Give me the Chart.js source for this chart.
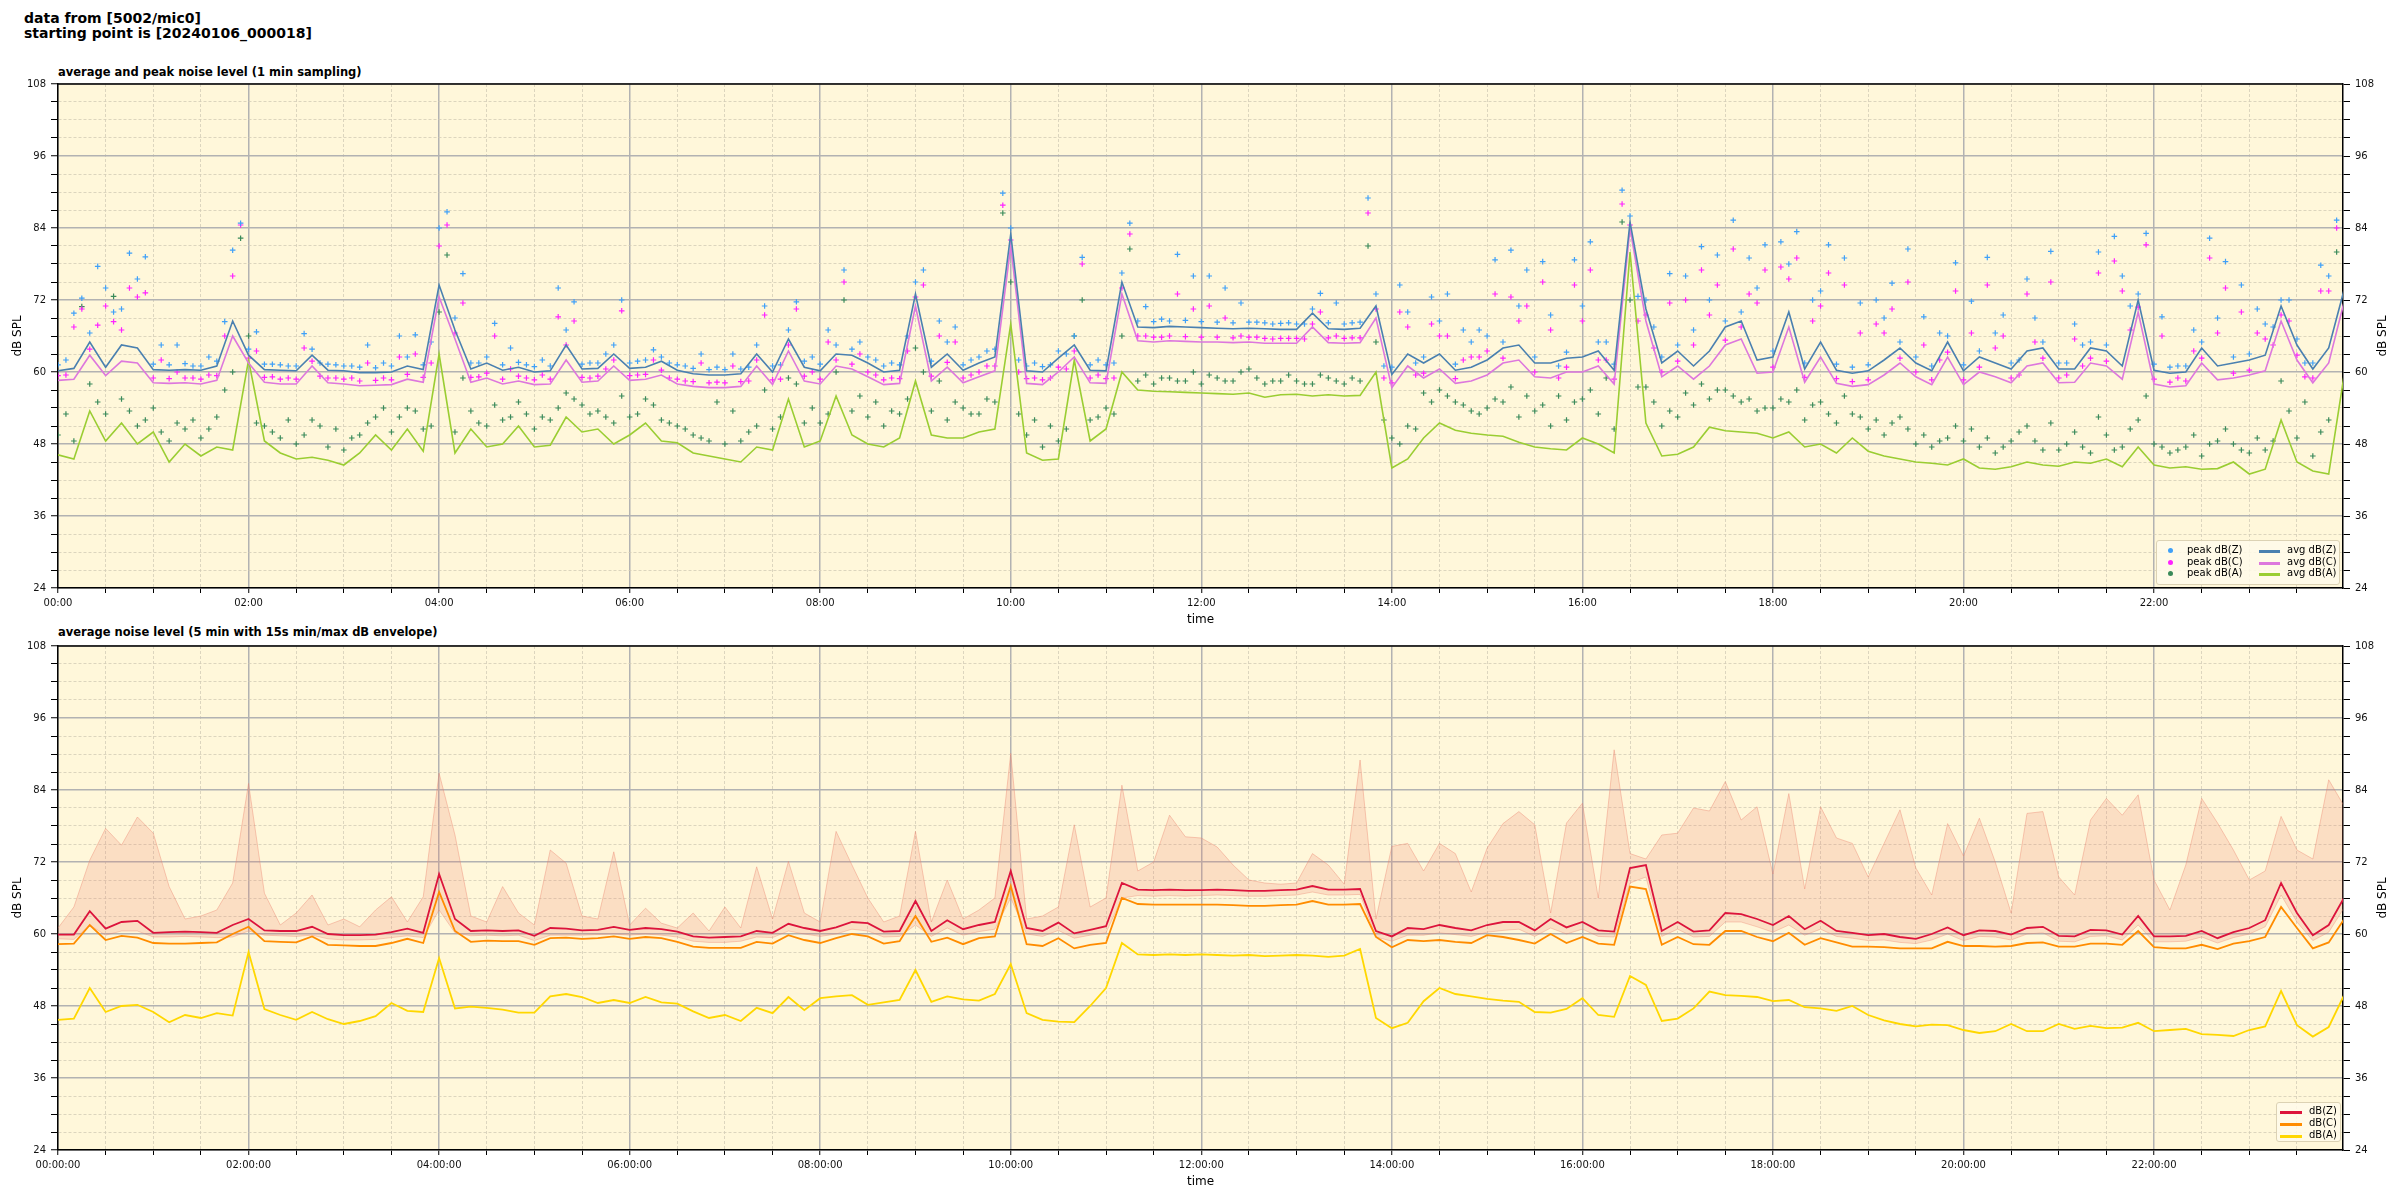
<!DOCTYPE html>
<html>
<head>
<meta charset="utf-8">
<script src="https://cdn.jsdelivr.net/npm/chart.js@4.4.1/dist/chart.umd.min.js"></script>
<style>
  body { margin: 0; width: 2400px; height: 1200px; position: relative; overflow: hidden; background: #fff; font-family: "DejaVu Sans", sans-serif; color: #000; }
  canvas { position: absolute; left: 0; }
  #sup { position: absolute; left: 24px; top: 11px; font-weight: bold; font-size: 14px; line-height: 15px; }
  .sub { position: absolute; left: 58px; font-weight: bold; font-size: 11.5px; line-height: 14px; }
  .ylab2 { position: absolute; width: 60px; height: 16px; line-height: 16px; text-align: center; font-size: 12px; transform: rotate(-90deg); }
  .legend { position: absolute; background: rgba(255, 250, 234, 0.85); border: 1px solid #dcd2b4; border-radius: 3px; font-size: 10px; }
  .legend span { position: absolute; white-space: nowrap; }
  .mk { width: 5px; height: 5px; border-radius: 50%; }
  .ln { height: 3px; }
</style>
</head>
<body>
<div id="sup">data from [5002/mic0]<br>starting point is [20240106_000018]</div>
<div class="sub" style="top:65px">average and peak noise level (1 min sampling)</div>
<div class="sub" style="top:625px">average noise level (5 min with 15s min/max dB envelope)</div>

<canvas id="top" width="2400" height="560" style="top:78px"></canvas>
<canvas id="bottom" width="2400" height="560" style="top:640px"></canvas>

<div class="ylab2" style="left:2352px;top:328px">dB SPL</div>
<div class="ylab2" style="left:2352px;top:890px">dB SPL</div>

<div class="legend" style="left:2156px;top:540px;width:182px;height:43px">
  <span class="mk" style="left:11px;top:7px;background:#3fa0f8"></span><span style="left:30px;top:3px">peak dB(Z)</span>
  <span class="mk" style="left:11px;top:19px;background:#ff22ff"></span><span style="left:30px;top:15px">peak dB(C)</span>
  <span class="mk" style="left:11px;top:30px;background:#3a8a5a"></span><span style="left:30px;top:26px">peak dB(A)</span>
  <span class="ln" style="left:102px;top:9px;width:21px;background:#4a80b0"></span><span style="left:130px;top:3px">avg dB(Z)</span>
  <span class="ln" style="left:102px;top:21px;width:21px;background:#dd77dd"></span><span style="left:130px;top:15px">avg dB(C)</span>
  <span class="ln" style="left:102px;top:32px;width:21px;background:#9acd32"></span><span style="left:130px;top:26px">avg dB(A)</span>
</div>
<div class="legend" style="left:2276px;top:1102px;width:63px;height:38px">
  <span class="ln" style="left:3px;top:8px;width:22px;background:#dc143c"></span><span style="left:32px;top:2px">dB(Z)</span>
  <span class="ln" style="left:3px;top:20px;width:22px;background:#ff8c00"></span><span style="left:32px;top:14px">dB(C)</span>
  <span class="ln" style="left:3px;top:32px;width:22px;background:#ffd700"></span><span style="left:32px;top:26px">dB(A)</span>
</div>

<script>
// one value every 10 minutes; lines start at 00:00, the two peak sets at 00:00 and 00:05
const STEP_MIN = 10;

// top chart: 1 min averages
const avgZ = [
  60.2, 60.6, 65.0, 60.8, 64.5, 64.0,
  60.4, 60.3, 60.4, 60.3, 61.0, 68.5,
  62.8, 60.4, 60.3, 60.2, 62.8, 60.3,
  60.2, 59.9, 59.9, 60.0, 61.0, 60.4,
  74.5, 67.0, 60.5, 61.5, 60.3, 60.8,
  60.0, 60.2, 64.5, 60.5, 60.6, 63.0,
  60.6, 60.8, 61.8, 60.3, 59.7, 59.5,
  59.5, 59.7, 63.0, 60.0, 65.5, 60.8,
  60.2, 63.0, 62.8, 61.5, 60.0, 60.3,
  73.0, 60.8, 63.0, 60.3, 61.5, 62.5,
  83.0, 60.2, 60.0, 62.3, 64.5, 60.3,
  60.2, 75.0, 67.5, 67.4, 67.6, 67.5,
  67.4, 67.3, 67.2, 67.3, 67.2, 67.1,
  67.1, 69.8, 67.2, 67.1, 67.3, 71.0,
  59.6, 63.0, 61.5, 63.0, 60.3, 60.8,
  62.0, 64.0, 64.5, 61.5, 61.5, 62.3,
  62.5, 63.5, 60.3, 85.0, 70.5, 61.5,
  63.5, 61.0, 63.5, 67.5, 68.5, 62.0,
  62.5, 70.0, 60.5, 65.0, 60.3, 59.8,
  60.2, 62.0, 64.0, 61.5, 60.2, 65.0,
  60.2, 62.5, 61.5, 60.5, 63.5, 64.0,
  60.5, 60.5, 64.0, 63.5, 61.0, 72.0,
  60.3, 59.8, 60.0, 64.0, 61.0, 61.5,
  62.0, 62.8, 71.0, 64.5, 60.5, 64.0,
  74.0
];
const avgC = [
  58.6, 58.8, 62.8, 59.4, 61.8, 61.5,
  58.2, 58.1, 58.2, 58.0, 58.6, 66.0,
  61.5, 58.3, 58.0, 58.0, 61.0, 58.2,
  58.0, 57.7, 57.8, 57.9, 58.8, 58.3,
  72.5, 65.5, 58.3, 59.0, 58.0, 58.5,
  57.9, 58.0, 62.0, 58.3, 58.5, 61.0,
  58.6, 58.8, 59.5, 58.0, 57.6, 57.4,
  57.4, 57.6, 61.0, 57.9, 63.5, 58.5,
  58.0, 61.0, 60.5, 59.2, 57.9, 58.1,
  71.0, 58.5, 60.8, 58.2, 59.2, 60.2,
  81.0, 58.1, 57.9, 60.0, 62.5, 58.2,
  58.1, 73.0, 65.2, 65.0, 65.2, 65.1,
  65.0, 65.0, 64.9, 65.0, 64.8, 64.8,
  64.8, 67.5, 64.9, 64.8, 64.9, 69.0,
  57.4, 61.0, 59.0, 60.5, 58.1, 58.5,
  59.5, 61.5, 62.0, 59.2, 59.0, 60.0,
  60.0, 61.0, 58.0, 84.0, 68.5, 59.2,
  61.0, 58.8, 61.0, 64.5, 65.5, 59.8,
  60.0, 67.5, 58.3, 62.5, 58.1, 57.6,
  57.9, 59.5, 61.5, 59.2, 57.9, 62.5,
  57.9, 60.0, 59.2, 58.2, 61.0, 61.5,
  58.2, 58.3, 61.5, 61.0, 58.8, 70.0,
  58.0, 57.5, 57.7, 61.5, 58.7, 59.0,
  59.5, 60.2, 68.5, 62.0, 58.2, 61.5,
  72.0
];
const avgA = [
  46.2, 45.5, 53.5, 48.5, 51.5, 48.0,
  50.0, 45.0, 48.0, 46.0, 47.5, 47.0,
  62.0, 48.5, 46.5, 45.5, 45.8, 45.3,
  44.5, 46.5, 49.5, 47.0, 50.5, 46.8,
  63.0, 46.5, 50.5, 47.5, 48.0, 51.0,
  47.5, 47.8, 52.5, 50.0, 50.5, 48.0,
  49.5, 51.5, 48.5, 48.2, 46.5, 46.0,
  45.5, 45.0, 47.5, 47.0, 55.5, 47.5,
  48.5, 56.0, 49.5, 48.0, 47.5, 49.0,
  58.5, 49.5, 49.0, 49.0, 50.0, 50.5,
  68.0, 46.5, 45.3, 45.5, 62.0, 48.5,
  50.5, 60.0, 57.0, 56.8, 56.7, 56.6,
  56.5, 56.4, 56.3, 56.5, 55.8, 56.2,
  56.3, 56.0, 56.2, 56.0, 56.1, 60.0,
  44.0, 45.5, 49.0, 51.5, 50.3, 49.8,
  49.5, 49.3, 48.3, 47.5, 47.2, 47.0,
  49.0, 48.0, 46.5, 80.0, 51.5, 46.0,
  46.3, 47.5, 50.8, 50.2, 50.0, 49.8,
  49.0, 50.0, 47.5, 48.0, 46.5, 49.0,
  46.8, 46.0, 45.5, 45.0, 44.8, 44.5,
  45.5, 44.0, 43.8, 44.2, 45.0, 44.5,
  44.3, 45.0, 44.8, 45.5, 44.2, 47.5,
  44.5, 44.0, 44.2, 43.8, 43.9, 45.0,
  43.0, 43.8, 52.0, 45.0, 43.5, 43.0,
  60.0
];
// peaks at hh:m5
const peakZ = [
  62.0, 72.3, 77.6, 70.0, 79.8, 79.2,
  64.5, 64.5, 61.0, 62.5, 68.4, 84.8,
  66.7, 61.3, 61.0, 66.4, 61.5, 61.2,
  61.0, 64.5, 61.5, 66.0, 66.2, 65.0,
  86.7, 76.4, 61.5, 68.1, 64.0, 61.2,
  62.0, 74.0, 71.7, 61.5, 63.0, 72.0,
  61.8, 63.7, 61.5, 61.0, 63.0, 60.8,
  63.0, 60.8, 71.0, 61.2, 71.7, 62.5,
  67.0, 77.0, 65.0, 62.0, 61.5, 66.0,
  77.0, 68.5, 67.5, 62.0, 63.5, 89.8,
  62.0, 61.5, 61.2, 63.0, 79.1, 62.0,
  61.5, 84.8, 70.9, 68.8, 79.6, 76.0,
  76.0, 74.0, 71.5, 68.3, 68.0, 68.2,
  68.0, 73.1, 71.5, 68.2, 89.0, 61.0,
  74.5, 61.5, 72.5, 73.0, 67.0, 67.0,
  78.7, 80.3, 77.0, 78.4, 61.0, 78.7,
  81.7, 65.0, 90.3, 72.6, 67.5, 76.4,
  76.0, 80.9, 79.5, 85.3, 79.0, 81.2,
  81.7, 83.4, 72.0, 81.2, 79.0, 71.5,
  72.0, 74.8, 80.5, 69.2, 66.5, 78.2,
  71.8, 79.1, 69.5, 62.0, 69.0, 80.1,
  61.5, 64.5, 80.0, 82.6, 71.0, 83.1,
  69.2, 61.0, 67.0, 82.3, 78.4, 74.5,
  70.5, 67.5, 72.0, 61.5, 77.8, 85.3
];
const peakC = [
  59.5, 70.5, 67.8, 68.4, 74.0, 73.2,
  62.0, 60.0, 59.0, 59.5, 66.0, 84.5,
  63.5, 59.2, 59.0, 64.0, 59.3, 59.0,
  59.0, 61.5, 59.0, 62.5, 63.0, 61.5,
  84.5, 71.5, 59.2, 66.0, 60.5, 59.0,
  59.5, 69.2, 68.5, 59.0, 60.5, 70.2,
  59.5, 62.0, 59.0, 58.5, 61.5, 58.3,
  61.0, 58.5, 69.5, 58.8, 70.5, 60.0,
  65.0, 75.0, 63.0, 59.5, 59.0, 63.5,
  74.5, 66.0, 65.0, 59.5, 61.0, 87.8,
  60.0, 59.0, 59.0, 60.5, 78.0, 59.5,
  59.0, 83.0, 66.0, 65.8, 73.0, 70.5,
  71.0, 69.0, 66.0, 65.8, 65.5, 65.6,
  65.5, 70.0, 66.0, 65.7, 86.5, 59.0,
  70.0, 59.5, 68.0, 66.0, 62.0, 62.5,
  73.0, 72.5, 71.0, 75.0, 59.0, 74.5,
  77.0, 62.0, 88.0, 68.5, 64.0, 71.5,
  72.0, 77.0, 74.5, 80.5, 73.0, 77.0,
  77.5, 79.0, 68.5, 76.5, 74.5, 66.5,
  68.0, 70.5, 75.0, 64.5, 62.0, 73.5,
  66.5, 74.5, 66.0, 59.5, 65.0, 75.0,
  59.5, 61.0, 76.5, 78.5, 67.0, 81.2,
  66.0, 59.0, 63.5, 79.0, 74.0, 70.0,
  66.5, 64.5, 68.5, 59.2, 73.5, 84.0
];
const peakA = [
  53.0, 70.9, 55.0, 72.6, 53.5, 52.0,
  50.0, 51.5, 52.0, 50.5, 57.0, 82.3,
  51.5, 50.0, 52.0, 49.5, 51.0, 50.5,
  49.0, 51.5, 54.0, 52.5, 53.5, 51.0,
  79.5, 59.0, 51.5, 54.5, 52.5, 53.0,
  52.5, 54.0, 55.5, 53.0, 52.5, 56.0,
  53.0, 54.5, 51.5, 50.5, 49.0, 55.0,
  53.5, 50.0, 57.0, 52.5, 58.0, 54.0,
  53.0, 72.0, 56.0, 55.0, 53.5, 55.5,
  60.0, 58.5, 55.0, 53.0, 55.5, 86.5,
  53.0, 52.0, 51.0, 50.5, 72.0, 52.5,
  53.0, 80.5, 59.5, 59.0, 58.5, 60.0,
  59.5, 58.5, 60.0, 59.0, 58.5, 59.5,
  58.0, 59.5, 58.5, 59.0, 81.0, 52.0,
  48.0, 50.5, 55.0, 56.0, 54.5, 53.0,
  55.5, 57.5, 56.0, 54.5, 56.0, 55.0,
  57.0, 59.0, 85.0, 57.5, 55.0, 53.5,
  56.5, 58.0, 57.0, 56.0, 55.5, 54.0,
  55.5, 57.0, 54.5, 53.0, 56.0, 52.5,
  52.0, 51.5, 50.5, 49.5, 48.5, 51.0,
  50.5, 49.0, 47.5, 50.0, 48.5, 51.5,
  48.0, 47.5, 52.5, 47.0, 50.5, 56.0,
  47.5, 47.0, 49.5, 48.0, 50.5, 47.0,
  49.0, 48.5, 53.5, 55.0, 50.0, 80.0
];
// peaks at hh:m0
const peakZ0 = [
  61.2, 69.8, 66.5, 74.0, 70.5, 75.5,
  61.3, 61.2, 61.4, 61.0, 61.8, 80.3,
  63.8, 61.3, 61.2, 61.0, 63.8, 61.3,
  61.0, 60.8, 60.7, 61.0, 62.5, 61.2,
  84.0, 69.0, 61.5, 62.5, 61.2, 61.6,
  60.9, 61.0, 67.0, 61.3, 61.5, 64.5,
  61.5, 62.0, 62.5, 61.2, 60.6, 60.4,
  60.4, 60.5, 64.5, 61.0, 67.0, 61.8,
  61.3, 64.5, 63.8, 62.5, 61.0, 61.2,
  75.0, 61.8, 65.0, 61.2, 62.5, 63.8,
  84.0, 61.0, 60.9, 63.5, 66.0, 61.2,
  61.2, 76.5, 68.5, 68.4, 68.5, 68.6,
  68.4, 68.3, 68.2, 68.3, 68.2, 68.1,
  68.0, 70.5, 68.2, 68.0, 68.3, 73.0,
  60.8, 70.0, 62.5, 68.5, 61.3, 65.0,
  66.0, 65.0, 71.0, 62.5, 69.5, 63.3,
  71.0, 65.0, 61.3, 86.0, 72.0, 62.5,
  64.5, 67.0, 72.0, 68.5, 70.0, 74.0,
  63.5, 78.0, 61.5, 73.5, 61.3, 60.8,
  61.2, 69.0, 65.0, 62.5, 61.0, 66.0,
  61.2, 63.5, 66.5, 61.5, 75.5, 65.0,
  61.5, 68.0, 65.0, 64.5, 76.0, 73.0,
  61.3, 60.8, 61.0, 65.0, 69.0, 62.5,
  63.0, 68.0, 72.0, 65.5, 61.5, 76.0
];
const peakC0 = [
  59.4, 67.5, 63.8, 71.0, 67.0, 72.5,
  59.0, 58.9, 59.0, 58.8, 59.4, 76.0,
  62.3, 59.1, 58.8, 58.8, 61.8, 59.0,
  58.8, 58.5, 58.6, 58.7, 59.6, 59.1,
  81.0, 66.5, 59.1, 59.8, 58.8, 59.3,
  58.7, 58.8, 64.5, 59.1, 59.3, 62.0,
  59.4, 59.6, 60.3, 58.8, 58.4, 58.2,
  58.2, 58.4, 62.0, 58.7, 64.5, 59.3,
  58.8, 62.0, 61.3, 60.0, 58.7, 58.9,
  72.5, 59.3, 61.6, 59.0, 60.0, 61.0,
  82.0, 58.9, 58.7, 60.8, 63.5, 59.0,
  58.9, 74.0, 66.0, 65.8, 66.0, 65.9,
  65.8, 65.8, 65.7, 65.8, 65.6, 65.6,
  65.6, 68.0, 65.7, 65.6, 65.7, 70.5,
  58.2, 67.5, 59.8, 66.0, 58.9, 62.5,
  63.5, 62.3, 68.5, 60.0, 67.0, 60.8,
  68.5, 62.0, 58.8, 84.5, 69.5, 60.0,
  61.8, 64.5, 69.5, 65.3, 67.5, 71.5,
  60.8, 75.5, 59.1, 71.0, 58.9, 58.4,
  58.7, 66.5, 62.3, 60.0, 58.7, 63.3,
  58.7, 60.8, 64.0, 59.0, 73.0, 62.3,
  59.0, 65.5, 62.3, 61.8, 73.5, 70.8,
  58.8, 58.3, 58.5, 62.3, 66.5, 59.8,
  60.3, 65.5, 69.5, 62.8, 59.0, 73.5
];
const peakA0 = [
  49.5, 48.5, 58.0, 53.0, 55.5, 51.0,
  54.0, 48.5, 50.5, 49.0, 52.5, 60.0,
  66.0, 51.0, 49.0, 48.0, 52.0, 47.5,
  47.0, 49.5, 52.5, 50.0, 54.0, 50.5,
  70.0, 50.0, 53.5, 51.0, 52.0, 55.0,
  50.5, 52.0, 56.5, 54.5, 53.5, 51.5,
  52.5, 55.5, 52.0, 51.0, 49.5, 48.5,
  48.0, 48.5, 51.0, 50.5, 59.0, 51.5,
  51.5, 60.0, 53.5, 52.5, 51.0, 53.0,
  64.0, 53.5, 52.0, 54.0, 53.0, 55.0,
  75.0, 49.5, 47.5, 48.5, 66.0, 52.0,
  54.0, 66.0, 58.5, 58.0, 59.0, 58.5,
  58.0, 59.0, 58.5, 60.5, 58.0, 58.5,
  58.5, 58.0, 59.0, 58.0, 58.5, 65.0,
  49.0, 51.0, 56.5, 57.0, 55.0, 53.5,
  54.0, 55.0, 52.5, 53.5, 51.0, 52.0,
  55.5, 53.0, 50.5, 72.0, 57.5, 51.0,
  52.5, 54.5, 55.5, 57.0, 55.0, 53.5,
  54.0, 55.0, 52.0, 55.0, 51.5, 53.0,
  50.5, 49.5, 52.5, 48.0, 47.5, 49.0,
  48.5, 47.5, 46.5, 48.5, 51.0, 47.0,
  47.0, 50.0, 46.5, 49.5, 47.5, 52.0,
  48.0, 46.5, 47.5, 46.0, 48.5, 48.0,
  46.5, 47.0, 58.5, 49.0, 46.0, 52.0
];

// bottom chart: 5 min averages and 15 s envelope of dB(Z)
const lvlZ = [
  59.9, 59.9, 63.8, 60.9, 62.0, 62.2,
  60.2, 60.3, 60.4, 60.3, 60.2, 61.5,
  62.5, 60.6, 60.5, 60.5, 61.2, 60.0,
  59.8, 59.8, 59.9, 60.3, 60.9, 60.2,
  70.0, 62.5, 60.5, 60.6, 60.5, 60.6,
  59.7, 61.0, 60.9, 60.6, 60.7, 61.2,
  60.7, 61.0, 60.8, 60.4, 59.6, 59.4,
  59.5, 59.6, 60.5, 60.2, 61.7, 61.0,
  60.5, 61.1, 62.0, 61.8, 60.4, 60.5,
  65.5, 60.5, 62.3, 60.8, 61.5, 62.0,
  70.5, 61.0, 60.5, 61.9, 60.1, 60.7,
  61.3, 68.5, 67.4, 67.3, 67.4, 67.3,
  67.3, 67.4, 67.3, 67.2, 67.2, 67.3,
  67.4, 68.0, 67.4, 67.4, 67.5, 60.5,
  59.6, 61.0, 60.8, 61.5, 61.0, 60.6,
  61.5, 62.0, 62.0, 60.6, 62.5, 61.1,
  62.0, 60.6, 60.4, 71.0, 71.5, 60.5,
  62.0, 60.4, 60.6, 63.5, 63.3, 62.5,
  61.5, 63.0, 60.8, 62.2, 60.5, 60.2,
  59.8, 60.0, 59.5, 59.2, 60.0, 61.1,
  59.8, 60.6, 60.5, 59.9, 61.0, 61.2,
  59.7, 59.6, 60.7, 60.6, 59.9, 63.0,
  59.6, 59.6, 59.7, 60.5, 59.3, 60.3,
  61.0, 62.3, 68.5, 63.5, 59.8, 61.5,
  66.2
];
const lvlC = [
  58.3, 58.4, 61.5, 59.0, 59.7, 59.4,
  58.5, 58.4, 58.4, 58.5, 58.6, 60.0,
  61.2, 58.8, 58.7, 58.6, 59.6, 58.2,
  58.1, 58.0, 58.0, 58.5, 59.2, 58.5,
  67.0, 60.5, 58.7, 58.9, 58.8, 58.8,
  58.2, 59.3, 59.4, 59.2, 59.3, 59.6,
  59.2, 59.5, 59.3, 58.7, 57.9, 57.7,
  57.7, 57.7, 58.7, 58.4, 59.8, 59.0,
  58.5, 59.3, 60.0, 59.6, 58.4, 58.8,
  63.0, 58.7, 59.4, 58.3, 59.3, 59.6,
  68.0, 58.3, 58.0, 59.3, 57.6, 58.2,
  58.5, 66.0, 65.0, 64.9, 64.9, 64.9,
  64.9, 64.9, 64.8, 64.7, 64.7, 64.8,
  64.9, 65.5, 64.9, 64.9, 65.0, 59.5,
  57.8, 59.0, 58.8, 59.0, 58.7, 58.5,
  59.8, 59.5, 59.0, 58.4, 60.0, 58.5,
  59.5, 58.4, 58.2, 67.9, 67.5, 58.2,
  59.5, 58.3, 58.2, 60.5, 60.5, 59.5,
  58.8, 60.2, 58.2, 59.3, 58.6, 57.9,
  57.9, 57.8, 57.6, 57.6, 57.6, 58.7,
  58.0, 58.0, 57.9, 58.0, 58.5, 58.6,
  57.9, 57.9, 58.4, 58.4, 58.2, 60.5,
  57.8, 57.6, 57.6, 58.2, 57.5, 58.4,
  58.8, 59.5, 64.5, 61.0, 57.6, 58.6,
  62.6
];
const lvlA = [
  45.7, 45.9, 51.0, 47.0, 48.0, 48.2,
  47.0, 45.3, 46.5, 46.0, 46.8, 46.4,
  57.0, 47.5, 46.5, 45.7, 47.0, 45.8,
  45.0, 45.5, 46.3, 48.5, 47.2, 47.0,
  56.0, 47.6, 47.9, 47.7, 47.4, 46.9,
  46.9, 49.6, 50.0, 49.5, 48.5, 49.0,
  48.5, 49.5, 48.6, 48.4, 47.1, 46.0,
  46.5, 45.5, 47.7, 46.8, 49.5, 47.3,
  49.3, 49.6, 49.8, 48.2, 48.6, 49.0,
  54.0, 48.7, 49.6, 49.1, 48.9, 50.0,
  55.0, 46.8, 45.7, 45.4, 45.3, 48.0,
  51.0, 58.5, 56.6, 56.5, 56.6, 56.5,
  56.6, 56.5, 56.4, 56.5, 56.3, 56.4,
  56.5, 56.4, 56.2, 56.4, 57.5, 46.0,
  44.3, 45.2, 48.8, 51.0, 50.0, 49.6,
  49.2, 48.9, 48.7, 47.0, 46.9, 47.5,
  49.3, 46.5, 46.2, 53.0, 51.5, 45.5,
  45.9, 47.6, 50.4, 49.8, 49.7, 49.5,
  48.8, 49.0, 47.8, 47.6, 47.2, 48.0,
  46.5, 45.6, 45.0, 44.6, 44.9, 44.8,
  44.0, 43.5, 43.8, 45.0, 43.8, 43.8,
  45.0, 44.2, 44.7, 44.3, 44.4, 45.2,
  43.8, 44.0, 44.2, 43.3, 43.2, 43.0,
  44.0, 44.6, 50.5, 44.8, 42.9, 44.5,
  50.0
];
const envMax = [
  61.0, 64.5, 72.3, 77.6, 74.8, 79.5,
  76.8, 67.9, 62.5, 63.0, 64.0, 68.5,
  85.1, 66.8, 61.5, 63.5, 66.5, 61.5,
  62.5, 61.2, 64.0, 66.2, 62.0, 66.2,
  86.8, 76.5, 63.0, 62.0, 67.9, 63.5,
  61.5, 74.0, 71.8, 63.0, 62.5, 73.7,
  61.5, 64.3, 61.8, 61.0, 63.5, 60.5,
  64.5, 61.0, 71.2, 62.5, 72.1, 63.5,
  62.0, 77.1, 71.5, 66.0, 62.0, 63.0,
  77.1, 62.0, 69.0, 62.5, 64.0, 66.0,
  90.1, 62.5, 63.0, 64.5, 78.2, 64.5,
  66.0, 84.8, 70.5, 72.0, 79.8, 76.2,
  76.0, 74.5, 71.5, 69.0, 68.5, 68.3,
  68.5, 73.4, 71.5, 68.3, 89.0, 62.5,
  74.6, 75.1, 70.5, 75.1, 73.4, 67.0,
  74.3, 78.4, 80.4, 78.2, 63.5, 78.5,
  81.8, 66.0, 90.7, 73.4, 72.5, 76.5,
  76.8, 81.0, 80.5, 85.4, 79.0, 81.2,
  70.0, 83.4, 67.5, 81.2, 76.0, 75.1,
  69.5, 75.1, 80.7, 71.0, 66.5, 78.4,
  73.0, 79.3, 72.0, 63.5, 80.1, 80.4,
  69.5, 66.5, 79.0, 82.6, 79.8, 83.2,
  69.0, 64.0, 71.5, 82.6, 78.5, 74.0,
  69.0, 70.5, 79.6, 74.0, 72.5, 85.7,
  81.2
];
const envMin = [
  59.2, 59.1, 61.5, 59.8, 60.5, 60.5,
  59.5, 59.5, 59.6, 59.5, 59.4, 59.5,
  60.5, 59.8, 59.7, 59.6, 59.8, 59.2,
  59.0, 59.0, 59.1, 59.4, 59.7, 59.4,
  64.0, 60.2, 59.7, 59.8, 59.7, 59.8,
  58.9, 59.8, 59.8, 59.8, 59.9, 60.0,
  59.8, 60.0, 59.8, 59.5, 58.8, 58.6,
  58.6, 58.8, 59.5, 59.4, 60.5, 60.0,
  59.6, 60.0, 60.8, 60.5, 59.5, 59.6,
  61.5, 59.6, 61.0, 59.8, 60.4, 60.8,
  66.0, 60.0, 59.6, 60.6, 59.3, 59.8,
  60.2, 66.0, 66.4, 66.3, 66.4, 66.3,
  66.4, 66.5, 66.4, 66.3, 66.3, 66.4,
  66.5, 67.0, 66.5, 66.5, 66.6, 59.5,
  58.8, 59.8, 59.8, 60.2, 59.9, 59.6,
  60.3, 60.6, 60.8, 59.6, 61.0, 60.0,
  60.8, 59.6, 59.5, 68.5, 69.5, 59.6,
  60.8, 59.5, 59.6, 62.0, 62.0, 61.2,
  60.3, 61.5, 59.8, 60.8, 59.6, 59.3,
  58.9, 59.0, 58.6, 58.4, 59.0, 60.0,
  58.9, 59.6, 59.5, 59.0, 60.0, 60.2,
  58.8, 58.7, 59.6, 59.7, 59.0, 61.5,
  58.7, 58.7, 58.8, 59.5, 58.5, 59.4,
  60.0, 61.2, 66.5, 62.0, 58.9, 60.3,
  64.5
];

const yTicksMajor = [24, 36, 48, 60, 72, 84, 96, 108];
const FONT = 'DejaVu Sans';

const pad2 = n => String(n).padStart(2, '0');
const hhmm = v => pad2(Math.floor(v / 60)) + ':' + pad2(v % 60);
const hhmmss = v => hhmm(v) + ':00';
const pts = (arr, offset) => arr.map((y, i) => ({ x: i * STEP_MIN + offset, y }));

const isMajorX = c => c.tick && c.tick.value % 120 === 0;
const isMajorY = c => c.tick && yTicksMajor.includes(c.tick.value);

function xAxis(fmt) {
  return {
    type: 'linear', min: 0, max: 1439,
    afterFit: s => { s.height = 50; s.paddingLeft = 0; s.paddingRight = 0; },
    ticks: {
      stepSize: 30, includeBounds: false, autoSkip: false, maxRotation: 0, padding: 4,
      color: '#111', font: { family: FONT, size: 10 },
      callback: v => (v % 120 === 0 ? fmt(v) : '')
    },
    grid: {
      color: c => (isMajorX(c) ? '#b2b2b2' : '#d3ccb6'),
      lineWidth: c => (isMajorX(c) ? 1.5 : 0.8),
      tickLength: 5, tickColor: '#000', tickWidth: 1
    },
    border: { color: '#000', width: 1.5, dash: c => (c.tick && !isMajorX(c) ? [3, 2] : []) },
    title: { display: true, text: 'time', color: '#000', font: { family: FONT, size: 12 }, padding: { top: 11, bottom: 11 } }
  };
}

function yAxis(pos) {
  const left = pos === 'left';
  return {
    type: 'linear', position: pos, min: 24, max: 108,
    afterFit: s => { s.width = left ? 58 : 57; s.paddingTop = 0; s.paddingBottom = 0; },
    ticks: {
      stepSize: 3, autoSkip: false, padding: 5,
      color: '#111', font: { family: FONT, size: 10 },
      callback: v => (yTicksMajor.includes(v) ? v : '')
    },
    grid: left ? {
      color: c => (isMajorY(c) ? '#b2b2b2' : '#d3ccb6'),
      lineWidth: c => (isMajorY(c) ? 1.5 : 0.8),
      tickLength: 7, tickColor: '#000', tickWidth: 1
    } : { drawOnChartArea: false, tickLength: 7, tickColor: '#000', tickWidth: 1 },
    border: { color: '#000', width: 1.5, dash: c => (c.tick && !isMajorY(c) ? [3, 2] : []) },
    title: left
      ? { display: true, text: 'dB SPL', color: '#000', font: { family: FONT, size: 12 }, padding: { top: 11, bottom: 0 } }
      : { display: false }
  };
}

// cornsilk plot background and the top spine
const frame = {
  id: 'frame',
  beforeDraw(chart) {
    const { ctx, chartArea: a } = chart;
    ctx.save();
    ctx.fillStyle = '#fff7da';
    ctx.fillRect(a.left, a.top, a.right - a.left, a.bottom - a.top);
    ctx.restore();
  },
  afterDraw(chart) {
    const { ctx, chartArea: a } = chart;
    ctx.save();
    ctx.strokeStyle = '#000';
    ctx.lineWidth = 1.5;
    ctx.beginPath();
    ctx.moveTo(a.left, a.top);
    ctx.lineTo(a.right, a.top);
    ctx.stroke();
    ctx.restore();
  }
};

const line = (label, data, color, width) => ({
  label, data, borderColor: color, borderWidth: width, pointRadius: 0, fill: false, tension: 0
});
const dots = (label, data, color) => ({
  label, data, showLine: false, pointStyle: 'cross', pointRadius: 2.8, pointBorderWidth: 1.2,
  pointBorderColor: color, pointBackgroundColor: color, borderColor: color
});

const common = (fmt) => ({
  responsive: false, animation: false, devicePixelRatio: 1,
  layout: { padding: { top: 6, left: 0, right: 0, bottom: 0 } },
  plugins: { legend: { display: false }, tooltip: { enabled: false } },
  scales: { x: xAxis(fmt), y: yAxis('left'), y2: yAxis('right') }
});

new Chart(document.getElementById('top').getContext('2d'), {
  type: 'line',
  data: {
    datasets: [
      line('avg dB(Z)', pts(avgZ, 0), '#4a80b0', 1.6),
      line('avg dB(C)', pts(avgC, 0), '#dd77dd', 1.6),
      line('avg dB(A)', pts(avgA, 0), '#9acd32', 1.6),
      dots('peak dB(Z)', pts(peakZ0, 0).concat(pts(peakZ, 5)), '#3fa0f8'),
      dots('peak dB(C)', pts(peakC0, 0).concat(pts(peakC, 5)), '#ff22ff'),
      dots('peak dB(A)', pts(peakA0, 0).concat(pts(peakA, 5)), '#3a8a5a')
    ]
  },
  options: common(hhmm),
  plugins: [frame]
});

new Chart(document.getElementById('bottom').getContext('2d'), {
  type: 'line',
  data: {
    datasets: [
      line('dB(Z)', pts(lvlZ, 0), '#dc143c', 1.8),
      line('dB(C)', pts(lvlC, 0), '#ff8c00', 1.8),
      line('dB(A)', pts(lvlA, 0), '#ffd700', 1.8),
      { label: 'max dB(Z)', data: pts(envMax, 0), borderColor: 'rgba(235,130,110,0.4)', borderWidth: 1,
        backgroundColor: 'rgba(235,125,105,0.2)', pointRadius: 0, fill: '+1', tension: 0 },
      { label: 'min dB(Z)', data: pts(envMin, 0), borderColor: 'rgba(235,130,110,0.35)', borderWidth: 1,
        pointRadius: 0, fill: false, tension: 0 }
    ]
  },
  options: common(hhmmss),
  plugins: [frame]
});
</script>
</body>
</html>
